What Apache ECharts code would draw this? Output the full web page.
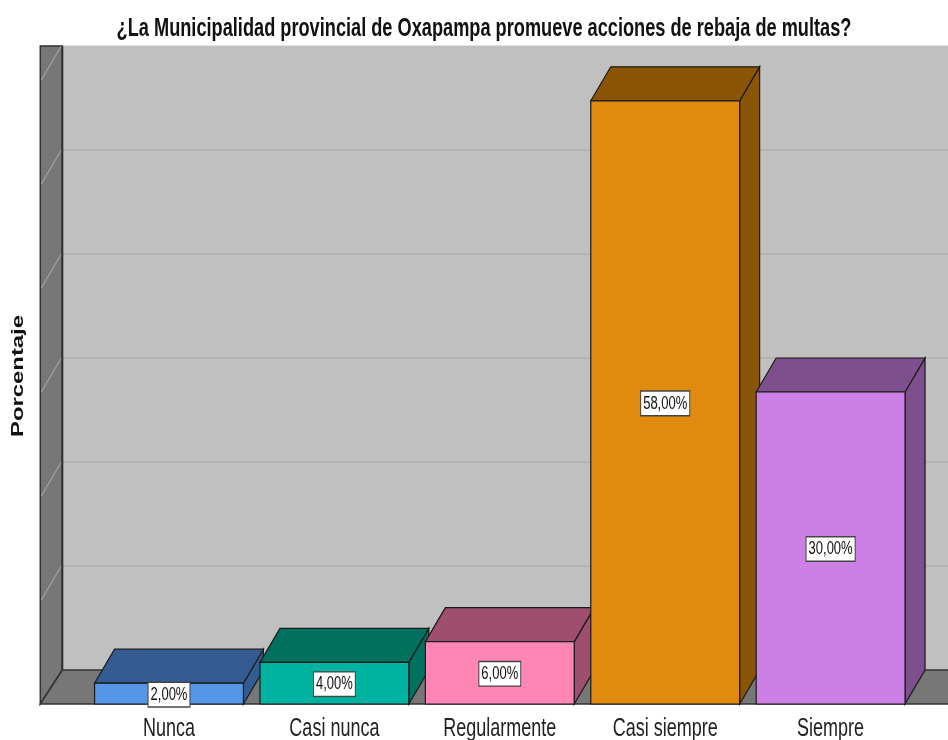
<!DOCTYPE html>
<html><head><meta charset="utf-8">
<script src="https://cdn.jsdelivr.net/npm/echarts@6/dist/echarts.min.js"></script>
<style>html,body{margin:0;padding:0;background:#fff}#c{width:948px;height:740px}</style>
</head><body><div id="c"></div>
<script>
const titleText = '¿La Municipalidad provincial de Oxapampa promueve acciones de rebaja de multas?';
const yAxisName = 'Porcentaje';
const categories = ['Nunca', 'Casi nunca', 'Regularmente', 'Casi siempre', 'Siempre'];
const percentages = [2, 4, 6, 58, 30];
const gridValues = [10, 20, 30, 40, 50, 60];
const frontColors = ['#5596e6', '#00b3a0', '#ff85b5', '#e08a10', '#cc80e6'];
const darkColors = ['#345c92', '#00705f', '#9e4f6e', '#8a5506', '#7d4f8c'];

const DX = 20, DY = -34;
const FONT = '"Liberation Sans",Arial,sans-serif';
const STRETCH = 1.45;

function textWidth(text, font) {
  const ctx = document.createElement('canvas').getContext('2d');
  ctx.font = font;
  return ctx.measureText(text).width;
}
const titleSize = 17 * 735 / textWidth(titleText, 'bold 17px ' + FONT);
const nameScale = 122 / textWidth(yAxisName, 'bold 16px ' + FONT);

function renderBg(params, api) {
  const cs = params.coordSys;
  const x0 = cs.x - 46;
  const xbL = x0 + 22;
  const xr = 1000;
  const yf0 = api.coord([0, 0])[1];
  const yb0 = yf0 + DY;
  const wallTop = api.coord([0, gridValues[gridValues.length - 1]])[1] + DY;
  const children = [];
  children.push({ type: 'rect', shape: { x: xbL, y: wallTop, width: xr - xbL, height: yb0 - wallTop }, style: { fill: '#c0c0c0' } });
  children.push({ type: 'line', shape: { x1: x0, y1: wallTop - 0.5, x2: xr, y2: wallTop - 0.5 }, style: { stroke: '#e2e2e2', lineWidth: 1 } });
  gridValues.forEach(function (v) {
    const y = api.coord([0, v])[1] + DY;
    if (v < gridValues[gridValues.length - 1]) {
      children.push({ type: 'line', shape: { x1: xbL, y1: y, x2: xr, y2: y }, style: { stroke: '#b3b3b3', lineWidth: 2 } });
    }
  });
  children.push({ type: 'polygon', shape: { points: [[x0, wallTop], [xbL, wallTop], [xbL, yb0], [x0, yf0]] }, style: { fill: '#777777', stroke: '#333333', lineWidth: 1.5 } });
  gridValues.forEach(function (v) {
    const y = api.coord([0, v])[1] + DY;
    children.push({ type: 'line', shape: { x1: xbL - 1, y1: y, x2: x0 + 1, y2: y - DY }, style: { stroke: '#b0b0b0', lineWidth: 1 } });
  });
  children.push({ type: 'line', shape: { x1: xbL, y1: wallTop, x2: xbL, y2: yb0 }, style: { stroke: '#333333', lineWidth: 2 } });
  children.push({ type: 'polygon', shape: { points: [[x0, yf0], [xbL, yb0], [xr, yb0], [xr, yf0]] }, style: { fill: '#777777', stroke: '#333333', lineWidth: 1.5 } });
  return { type: 'group', children: children };
}

function renderBar(params, api) {
  const i = api.value(0), v = api.value(1);
  const top = api.coord([i, v]);
  const bot = api.coord([i, 0]);
  const bw = api.size([1, 0])[0] * 0.9;
  const xl = top[0] - bw / 2, xr = top[0] + bw / 2;
  const yt = top[1], yb = bot[1];
  const idx = params.dataIndex;
  const edge = { stroke: '#1a1a1a', lineWidth: 1.2 };
  return {
    type: 'group',
    children: [
      { type: 'polygon', shape: { points: [[xr, yt], [xr + DX, yt + DY], [xr + DX, yb + DY], [xr, yb]] }, style: Object.assign({ fill: darkColors[idx] }, edge) },
      { type: 'polygon', shape: { points: [[xl, yt], [xl + DX, yt + DY], [xr + DX, yt + DY], [xr, yt]] }, style: Object.assign({ fill: darkColors[idx] }, edge) },
      { type: 'rect', shape: { x: xl, y: yt, width: bw, height: yb - yt }, style: Object.assign({ fill: frontColors[idx] }, edge) },
      { type: 'text', x: top[0], y: (yt + yb) / 2 + 1, scaleY: 1.45, style: {
          text: v.toFixed(2).replace('.', ',') + '%', align: 'center', verticalAlign: 'middle',
          fontFamily: FONT, fontSize: 13, fill: '#111',
          backgroundColor: '#ffffff', borderColor: '#444', borderWidth: 1, padding: [2, 2, 1, 2]
        } },
      { type: 'text', x: bot[0], y: bot[1] + 25, scaleY: STRETCH, style: {
          text: categories[idx], align: 'center', verticalAlign: 'middle',
          fontFamily: FONT, fontSize: 18, fill: '#222'
        } }
    ]
  };
}

const chart = echarts.init(document.getElementById('c'), null, { renderer: 'canvas' });
chart.setOption({
  backgroundColor: '#ffffff',
  animation: false,
  graphic: [{
    type: 'text', x: 484, y: 29, scaleY: STRETCH,
    style: { text: titleText, align: 'center', verticalAlign: 'middle', fontFamily: FONT, fontWeight: 'bold', fontSize: titleSize, fill: '#111' }
  }, {
    type: 'text', x: 19, y: 376, rotation: Math.PI / 2, scaleX: nameScale,
    style: { text: yAxisName, align: 'center', verticalAlign: 'middle', fontFamily: FONT, fontWeight: 'bold', fontSize: 16, fill: '#111' }
  }],
  grid: { left: 86.3, right: 34.7, top: 80, bottom: 36 },
  xAxis: {
    type: 'category', data: categories,
    axisLine: { show: false }, axisTick: { show: false }, axisLabel: { show: false }
  },
  yAxis: {
    type: 'value', min: 0, max: 60, interval: 10,
    axisLine: { show: false }, axisTick: { show: false }, axisLabel: { show: false }, splitLine: { show: false }
  },
  series: [
    { type: 'custom', renderItem: renderBg, data: [[0, 0]], silent: true, z: 1 },
    { type: 'custom', renderItem: renderBar, data: percentages.map(function (v, i) { return [i, v]; }), z: 2 }
  ]
});
</script></body></html>
